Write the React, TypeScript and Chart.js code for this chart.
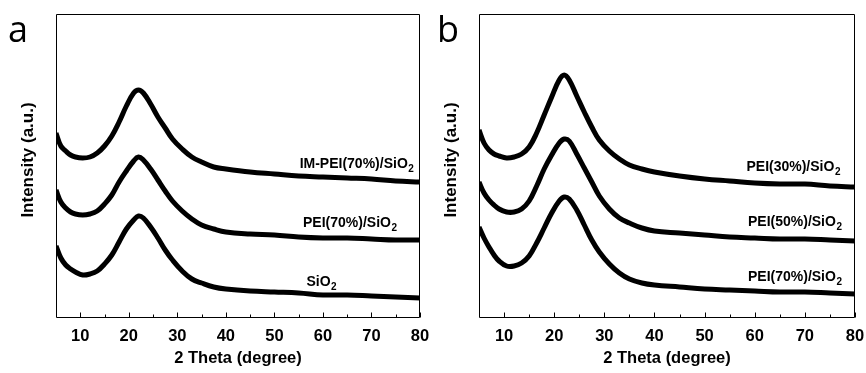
import React, { useEffect, useRef } from "react";
import { Chart, registerables } from "chart.js";

Chart.register(...registerables);

// 2-theta sample positions (degree)
const theta = [5, 6, 7, 8, 9, 10.5, 12, 13.5, 15, 16.5, 18, 19.5, 21, 22, 23, 24.5, 26, 27.5, 29, 31, 33, 35, 37.5, 40, 45, 50, 55, 60, 65, 70, 75, 80];

// Panel a intensities (a.u., stacked offsets included)
const imPei70A = [185, 172, 167, 163, 161, 160, 161, 165, 172, 182, 196, 212, 225, 228, 225, 214, 201, 190, 179, 169, 161, 156, 151, 149, 146, 144, 142, 141, 140, 139, 137, 136];
const pei70A = [128, 116, 110, 106, 104, 103, 104, 107, 114, 123, 136, 147, 157, 161, 158, 149, 138, 127, 117, 107, 99, 93, 89, 86, 84, 83, 81, 80, 80, 79, 78, 78];
const sio2A = [72, 60, 53, 49, 46, 43, 44, 47, 54, 63, 76, 89, 98, 102, 100, 91, 80, 68, 58, 47, 39, 35, 31, 29, 27, 26, 25, 23, 23, 22, 21, 20];

// Panel b intensities
const pei30B = [188, 175, 168, 164, 162, 160, 161, 164, 171, 185, 203, 221, 238, 243, 238, 222, 206, 191, 178, 167, 159, 153, 149, 146, 142, 139, 137, 135, 134, 134, 132, 131];
const pei50B = [136, 125, 118, 113, 109, 106, 106, 109, 117, 132, 149, 163, 175, 179, 177, 164, 150, 136, 122, 109, 100, 95, 90, 87, 85, 83, 81, 80, 79, 79, 78, 77];
const pei70B = [91, 80, 71, 63, 57, 52, 52, 55, 62, 75, 90, 105, 117, 121, 119, 108, 93, 78, 66, 54, 45, 39, 35, 33, 31, 29, 28, 27, 26, 26, 25, 24];

// Axis ticks
const xMajorTicks = [10, 20, 30, 40, 50, 60, 70, 80];
const xMinorTicks = [15, 25, 35, 45, 55, 65, 75];

// Curve labels (main text + subscript), anchored in data coordinates
const labelsA = ["IM-PEI(70%)/SiO", "PEI(70%)/SiO", "SiO"];
const labelXA = [55.2, 55.9, 56.6];
const labelYA = [150, 91, 32];
const labelsB = ["PEI(30%)/SiO", "PEI(50%)/SiO", "PEI(70%)/SiO"];
const labelXB = [58.35, 58.65, 58.65];
const labelYB = [147, 92, 37];
const labelSub = "2";

const FONT = '"Liberation Sans", Arial, Helvetica, sans-serif';

type PanelCfg = {
  letter: string;
  series: number[][];
  labels: string[];
  lx: number[];
  ly: number[];
  padLeft: number;
  padRight: number;
  letterX: number;
};

function makePlugin(cfg: PanelCfg) {
  return {
    id: "xrdDecor",
    afterDraw(chart: any) {
      const { ctx, chartArea: ca, scales } = chart;
      const xs = scales.x;
      const ys = scales.y;
      ctx.save();
      ctx.strokeStyle = "#000";
      ctx.lineWidth = 1;
      const L = Math.round(ca.left) + 0.5;
      const T = Math.round(ca.top) + 0.5;
      const R = Math.round(ca.right) - 0.5;
      const B = Math.round(ca.bottom) - 0.5;
      ctx.beginPath();
      ctx.moveTo(L, T);
      ctx.lineTo(R, T);
      ctx.lineTo(R, B);
      ctx.lineTo(L, B);
      ctx.closePath();
      ctx.stroke();
      // inward ticks
      ctx.beginPath();
      for (const v of xMajorTicks) {
        const px = Math.round(xs.getPixelForValue(v)) + 0.5;
        ctx.moveTo(px, B);
        ctx.lineTo(px, B - 5);
      }
      for (const v of xMinorTicks) {
        const px = Math.round(xs.getPixelForValue(v)) + 0.5;
        ctx.moveTo(px, B);
        ctx.lineTo(px, B - 3);
      }
      ctx.stroke();
      // curve labels
      ctx.fillStyle = "#000";
      ctx.textAlign = "left";
      ctx.textBaseline = "alphabetic";
      cfg.labels.forEach((t, i) => {
        const x = xs.getPixelForValue(cfg.lx[i]);
        const y = ys.getPixelForValue(cfg.ly[i]);
        ctx.font = `bold 14px ${FONT}`;
        ctx.fillText(t, x, y);
        const w = ctx.measureText(t).width;
        ctx.font = `bold 10px ${FONT}`;
        ctx.fillText(labelSub, x + w + 0.5, y + 4);
      });
      // y-axis title
      ctx.save();
      ctx.translate(ca.left - 28, (ca.top + ca.bottom) / 2 - 6);
      ctx.rotate(-Math.PI / 2);
      ctx.font = `bold 17px ${FONT}`;
      ctx.textAlign = "center";
      ctx.textBaseline = "middle";
      ctx.fillText("Intensity (a.u.)", 0, 0);
      ctx.restore();
      // panel letter
      ctx.font = `36px "Open Sans", ${FONT}`;
      ctx.textAlign = "left";
      ctx.textBaseline = "alphabetic";
      ctx.fillText(cfg.letter, cfg.letterX, 42);
      ctx.restore();
    },
  };
}

function Panel({ cfg }: { cfg: PanelCfg }) {
  const ref = useRef<HTMLCanvasElement | null>(null);
  useEffect(() => {
    if (!ref.current) return;
    const chart = new Chart(ref.current, {
      type: "line",
      data: {
        datasets: cfg.series.map((s) => ({
          data: theta.map((t, i) => ({ x: t, y: s[i] })),
          borderColor: "#000",
          backgroundColor: "#000",
          borderWidth: 5,
          pointRadius: 0,
          tension: 0.4,
          fill: false,
        })),
      },
      options: {
        responsive: false,
        animation: false,
        devicePixelRatio: 1,
        events: [],
        layout: { padding: { top: 14, right: cfg.padRight, left: cfg.padLeft, bottom: 0 } },
        plugins: { legend: { display: false }, tooltip: { enabled: false }, title: { display: false } },
        scales: {
          x: {
            type: "linear",
            min: 5,
            max: 80,
            afterBuildTicks: (s: any) => {
              s.ticks = xMajorTicks.map((v) => ({ value: v }));
            },
            afterFit: (s: any) => {
              s.height = 55;
            },
            grid: { display: false },
            border: { display: false },
            ticks: {
              padding: 1,
              color: "#000",
              font: { family: FONT, size: 16.5, weight: "bold" },
              maxRotation: 0,
              autoSkip: false,
            },
            title: {
              display: true,
              text: "2 Theta (degree)",
              color: "#000",
              font: { family: FONT, size: 16.5, weight: "bold" },
              padding: { top: 0, bottom: 5 },
            },
          },
          y: { type: "linear", display: false, min: 0, max: 304 },
        },
      },
      plugins: [makePlugin(cfg)],
    } as any);
    return () => chart.destroy();
  }, [cfg]);
  return <canvas ref={ref} width={433} height={373} style={{ width: 433, height: 373, display: "block" }} />;
}

const cfgA: PanelCfg = {
  letter: "a",
  series: [imPei70A, pei70A, sio2A],
  labels: labelsA,
  lx: labelXA,
  ly: labelYA,
  padLeft: 56,
  padRight: 13,
  letterX: 8,
};
const cfgB: PanelCfg = {
  letter: "b",
  series: [pei30B, pei50B, pei70B],
  labels: labelsB,
  lx: labelXB,
  ly: labelYB,
  padLeft: 46,
  padRight: 11,
  letterX: 4,
};

export default function App() {
  return (
    <div style={{ position: "absolute", left: 0, top: 0, width: 866, height: 373, display: "flex", background: "#fff" }}>
      <Panel cfg={cfgA} />
      <Panel cfg={cfgB} />
    </div>
  );
}
